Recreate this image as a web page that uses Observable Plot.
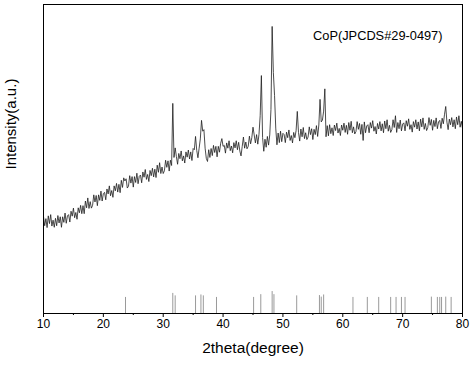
<!DOCTYPE html>
<html>
<head>
<meta charset="utf-8">
<script src="https://cdn.jsdelivr.net/npm/d3@7"></script>
<script src="https://cdn.jsdelivr.net/npm/@observablehq/plot@0.6"></script>
<style>
  html, body { margin: 0; padding: 0; background: #fff; }
  svg { display: block; }
</style>
</head>
<body>
<script>
// Measurement grid: 2theta from 10 to 80 deg, step 0.2 deg
const thetaStart = 10, thetaStep = 0.2;
// Intensity (a.u.), one value per grid step
const intensity = [
  31.4, 28.4, 30.7, 27.8, 31.6, 29.1, 32.0, 28.3, 30.2, 27.9, 30.8,
  28.4, 31.7, 29.3, 31.3, 27.9, 31.3, 29.5, 32.5, 29.2, 31.6,
  32.0, 29.6, 33.1, 31.5, 34.1, 31.0, 32.7, 30.5, 34.2, 32.6,
  35.0, 32.3, 34.9, 32.3, 36.4, 34.2, 37.4, 34.0, 36.2, 34.1,
  35.0, 38.4, 36.1, 38.2, 34.9, 38.4, 36.6, 39.6, 36.4, 38.8,
  39.2, 36.8, 40.3, 38.7, 41.3, 38.1, 39.8, 37.6, 41.3, 39.7,
  42.1, 39.3, 41.8, 39.1, 43.1, 40.8, 43.9, 42.9, 43.6, 40.6,
  41.2, 44.6, 42.2, 44.3, 40.9, 44.3, 42.4, 45.4, 42.0, 44.4,
  44.8, 42.3, 45.8, 44.1, 46.6, 43.4, 45.0, 42.7, 46.3, 44.6,
  47.0, 44.2, 46.7, 44.0, 48.0, 45.7, 48.8, 45.3, 47.4, 45.3,
  46.2, 49.6, 47.3, 49.4, 46.1, 49.6, 47.9, 68.0, 50.5, 53.6,
  50.8, 48.3, 51.8, 50.1, 52.6, 49.4, 51.0, 48.7, 52.3, 50.6,
  52.9, 50.0, 52.3, 49.5, 53.4, 53.0, 57.3, 52.8, 50.4, 53.5,
  56.5, 62.5, 59.0, 59.5, 53.5, 50.2, 49.2, 53.0, 50.5, 53.4,
  51.1, 54.4, 52.1, 54.1, 50.7, 54.1, 52.2, 55.1, 56.6, 54.1,
  54.4, 51.9, 55.2, 53.5, 55.9, 52.7, 54.2, 52.0, 55.3, 53.6,
  55.9, 53.0, 55.4, 52.6, 51.0, 54.1, 57.1, 53.5, 55.5, 53.3,
  54.1, 57.4, 54.9, 56.9, 60.3, 57.8, 55.2, 57.9, 54.8, 58.0,
  64.0, 77.0, 57.0, 52.5, 56.4, 53.8, 57.3, 54.5, 57.8, 66.0,
  92.9, 78.0, 70.5, 60.0, 54.6, 58.4, 55.3, 59.0, 55.6, 58.3,
  57.9, 55.3, 58.7, 56.9, 59.4, 56.0, 57.6, 55.2, 58.6, 56.9,
  59.2, 65.4, 58.6, 55.8, 59.7, 57.2, 60.2, 56.6, 58.5, 56.3,
  57.1, 60.4, 57.9, 59.8, 56.3, 59.6, 57.9, 60.8, 57.3, 61.0,
  69.3, 62.0, 62.6, 65.5, 72.7, 57.2, 60.8, 57.5, 61.1, 58.2,
  60.1, 57.6, 61.0, 59.2, 61.6, 58.4, 59.9, 57.6, 61.0, 59.3,
  61.6, 58.6, 60.9, 58.0, 61.8, 59.3, 62.2, 58.5, 60.4, 58.1,
  58.9, 62.1, 59.6, 61.5, 58.0, 61.2, 56.0, 62.0, 58.5, 60.7,
  61.1, 58.5, 61.8, 60.0, 62.4, 59.0, 60.5, 58.1, 61.5, 59.7,
  62.1, 59.1, 61.4, 58.5, 62.3, 59.8, 62.7, 59.0, 60.9, 58.6,
  59.5, 62.7, 60.2, 64.0, 58.6, 61.8, 59.8, 62.6, 59.1, 61.3,
  61.7, 59.1, 62.4, 60.6, 63.0, 59.6, 61.1, 58.7, 62.1, 60.3,
  62.7, 59.7, 62.0, 59.1, 62.9, 60.4, 63.3, 59.6, 61.5, 59.2,
  60.2, 63.4, 60.9, 62.8, 59.3, 62.5, 60.5, 63.3, 59.8, 62.0,
  62.5, 59.9, 63.2, 61.4, 64.5, 67.0, 61.9, 59.5, 62.9, 61.1,
  63.4, 60.4, 62.7, 59.8, 63.6, 61.1, 64.0, 60.3, 62.2, 59.9
];

// Reference pattern CoP (JCPDS 29-0497): positions and stick heights
const refPositions = [23.7, 31.6, 32.0, 35.4, 36.3, 36.7, 38.9, 45.1, 46.3, 48.2, 48.5, 52.3, 56.1, 56.4, 56.8, 61.7, 64.1, 66.0, 68.0, 68.9, 69.8, 70.4, 74.8, 75.8, 76.2, 76.5, 77.2, 78.1];
const refHeights   = [5.2, 6.5, 5.7, 5.7, 6.0, 5.7, 5.2, 5.2, 6.1, 7.1, 6.1, 5.7, 5.8, 5.3, 6.0, 5.2, 5.2, 5.2, 5.2, 5.2, 5.2, 5.2, 5.3, 5.2, 5.2, 5.2, 5.3, 5.2];

const majorTicks = [10, 20, 30, 40, 50, 60, 70, 80];
const minorTicks = [15, 25, 35, 45, 55, 65, 75];

const xLabel = "2theta(degree)";
const yLabel = "Intensity(a.u.)";
const annotation = "CoP(JPCDS#29-0497)";

const pattern = intensity.map((v, i) => ({theta: +(thetaStart + i * thetaStep).toFixed(2), I: v}));
const sticks = refPositions.map((p, i) => ({pos: p, h: refHeights[i]}));

const chart = Plot.plot({
  width: 474,
  height: 367,
  marginLeft: 43,
  marginRight: 12,
  marginTop: 4,
  marginBottom: 54,
  style: {fontFamily: "'Liberation Sans', Arial, sans-serif", fontSize: "11.5px", color: "#000", background: "#fff"},
  x: {domain: [10, 80], label: null},
  y: {domain: [0, 100], axis: null},
  marks: [
    Plot.ruleX(sticks, {x: "pos", y1: 0, y2: "h", stroke: "#9a9a9a", strokeWidth: 1}),
    Plot.line(pattern, {x: "theta", y: "I", stroke: "#1e1e1e", strokeWidth: 0.8}),
    Plot.frame({stroke: "#000", strokeWidth: 1}),
    Plot.axisX(majorTicks, {tickSize: 4, tickPadding: 2, label: null, stroke: "#000", fontSize: 12}),
    Plot.axisX(minorTicks, {tickSize: 2, tickFormat: () => "", label: null, stroke: "#000"}),
    Plot.text([xLabel], {frameAnchor: "bottom", dy: 39, fontSize: 15.5, fill: "#000"}),
    Plot.text([yLabel], {frameAnchor: "left", dx: -32, dy: 10.5, rotate: -90, fontSize: 15, fill: "#000"}),
    Plot.text([annotation], {frameAnchor: "top-right", textAnchor: "end", dx: -20, dy: 26, fontSize: 12.8, fill: "#000"})
  ]
});
document.body.appendChild(chart);
</script>
</body>
</html>
